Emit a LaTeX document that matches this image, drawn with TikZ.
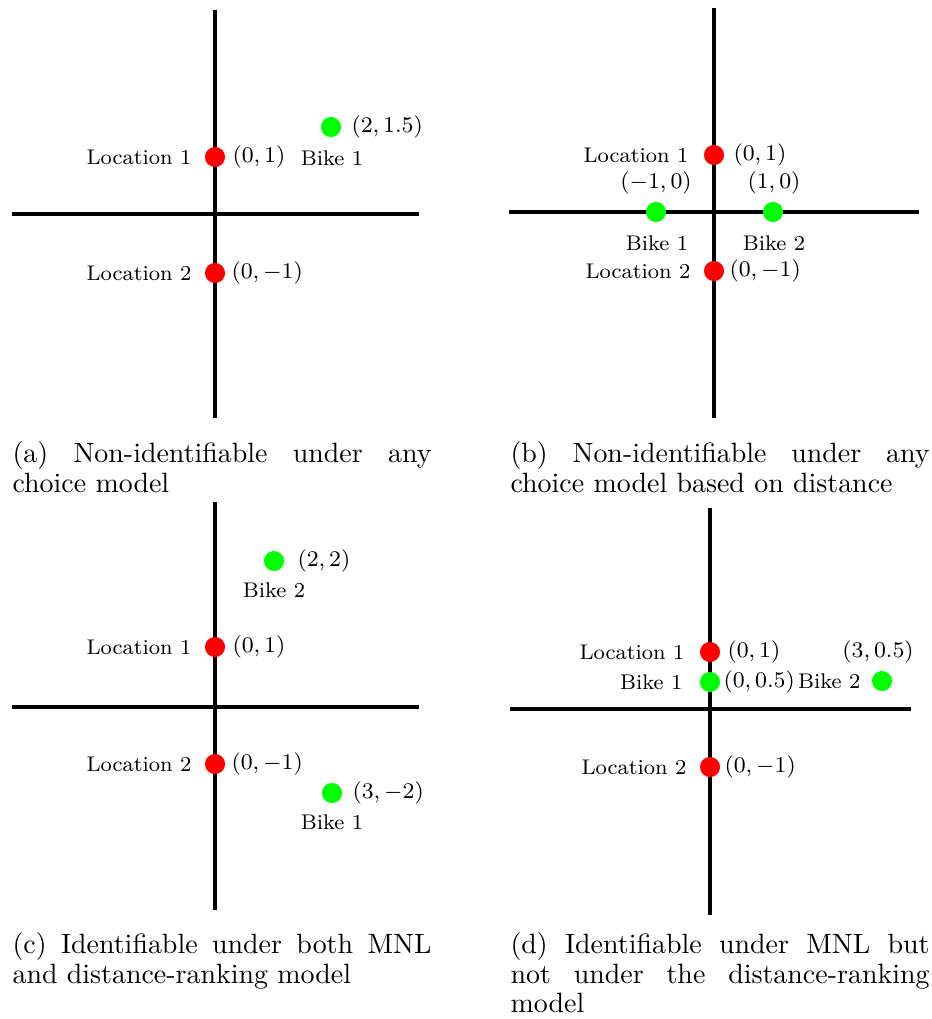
\documentclass[tikz,border=0pt]{standalone}
\usetikzlibrary{calc}
\begin{document}
\begin{tikzpicture}[x=0.358pt,y=-0.358pt,
  axis/.style={line width=1.3pt,black},
  loc/.style={circle,fill=red,inner sep=0pt,minimum size=7.2pt},
  bike/.style={circle,fill=green,inner sep=0pt,minimum size=7.2pt},
  lbl/.style={inner sep=0pt,font=\fontsize{7.6}{9}\selectfont},
  capbox/.style={inner sep=0pt,anchor=north west,text width=150pt,align=justify,
    font={\fontsize{10}{10.6}\selectfont\tolerance=10000\hyphenpenalty=10000}}]
\useasboundingbox (0,0) rectangle (932,1019);

% ---------- (a) ----------
\coordinate (aT) at (215,10);  \coordinate (aB) at (215,418);
\coordinate (aL) at (12,214);  \coordinate (aR) at (419,214);
\draw[axis] (aT) -- (aB);
\draw[axis] (aL) -- (aR);
\node[loc]  (a1) at (215,157) {};
\node[loc]  (a2) at (215,273) {};
\node[bike] (ab1) at (331,127) {};
\node[lbl,anchor=east] (a1n) at ($(a1)+(-23,0)$) {Location 1};
\node[lbl,anchor=west] (a1c) at ($(a1)+(17,0)$) {$(0,1)$};
\node[lbl,anchor=east] (a2n) at ($(a2)+(-23,0)$) {Location 2};
\node[lbl,anchor=west] (a2c) at ($(a2)+(16,0)$) {$(0,-1)$};
\node[lbl,anchor=west] (ab1c) at ($(ab1)+(20,0)$) {$(2,1.5)$};
\node[lbl] (ab1n) at ($(ab1)+(1,31)$) {Bike 1};
\node[capbox] (capa) at (12,441) {(a) Non-identifiable under any\linebreak choice model};

% ---------- (b) ----------
\coordinate (bT) at (714,8);   \coordinate (bB) at (714,418);
\coordinate (bL) at (509,212); \coordinate (bR) at (919,212);
\draw[axis] (bT) -- (bB);
\draw[axis] (bL) -- (bR);
\node[loc]  (b1) at (714,155) {};
\node[loc]  (b2) at (714,271) {};
\node[bike] (bb1) at (656,212) {};
\node[bike] (bb2) at (773,212) {};
\node[lbl,anchor=east] (b1n) at ($(b1)+(-25,0)$) {Location 1};
\node[lbl,anchor=west] (b1c) at ($(b1)+(19,0)$) {$(0,1)$};
\node[lbl,anchor=east] (b2n) at ($(b2)+(-23,0)$) {Location 2};
\node[lbl,anchor=west] (b2c) at ($(b2)+(15,0)$) {$(0,-1)$};
\node[lbl] (bb1c) at ($(bb1)+(0,-29)$) {$(-1,0)$};
\node[lbl] (bb2c) at ($(bb2)+(1,-29)$) {$(1,0)$};
\node[lbl] (bb1n) at ($(bb1)+(1,31)$) {Bike 1};
\node[lbl] (bb2n) at ($(bb2)+(1,31)$) {Bike 2};
\node[capbox] (capb) at (510,441) {(b) Non-identifiable under any\linebreak choice model based on distance};

% ---------- (c) ----------
\coordinate (cT) at (215,502); \coordinate (cB) at (215,910);
\coordinate (cL) at (12,707);  \coordinate (cR) at (419,707);
\draw[axis] (cT) -- (cB);
\draw[axis] (cL) -- (cR);
\node[loc]  (c1) at (215,647) {};
\node[loc]  (c2) at (215,764) {};
\node[bike] (cb2) at (274,561) {};
\node[bike] (cb1) at (332,793) {};
\node[lbl,anchor=east] (c1n) at ($(c1)+(-23,0)$) {Location 1};
\node[lbl,anchor=west] (c1c) at ($(c1)+(17,0)$) {$(0,1)$};
\node[lbl,anchor=east] (c2n) at ($(c2)+(-23,0)$) {Location 2};
\node[lbl,anchor=west] (c2c) at ($(c2)+(16,0)$) {$(0,-1)$};
\node[lbl,anchor=west] (cb2c) at ($(cb2)+(23,0)$) {$(2,2)$};
\node[lbl] (cb2n) at ($(cb2)+(0,29)$) {Bike 2};
\node[lbl,anchor=west] (cb1c) at ($(cb1)+(20,0)$) {$(3,-2)$};
\node[lbl] (cb1n) at ($(cb1)+(0,29)$) {Bike 1};
\node[capbox] (capc) at (12,932) {(c) Identifiable under both MNL\linebreak and distance-ranking model};

% ---------- (d) ----------
\coordinate (dT) at (710,508); \coordinate (dB) at (710,915);
\coordinate (dL) at (510,709); \coordinate (dR) at (911,709);
\draw[axis] (dT) -- (dB);
\draw[axis] (dL) -- (dR);
\node[loc]  (d1) at (710,652) {};
\node[bike] (db1) at (710,682) {};
\node[loc]  (d2) at (710,767) {};
\node[bike] (db2) at (882,681) {};
\node[lbl,anchor=east] (d1n) at ($(d1)+(-25,0)$) {Location 1};
\node[lbl,anchor=west] (d1c) at ($(d1)+(17,0)$) {$(0,1)$};
\node[lbl,anchor=east] (db1n) at ($(db1)+(-27,0)$) {Bike 1};
\node[lbl,anchor=west] (db1c) at ($(db1)+(13,0)$) {$(0,0.5)$};
\node[lbl,anchor=east] (d2n) at ($(d2)+(-23,0)$) {Location 2};
\node[lbl,anchor=west] (d2c) at ($(d2)+(14,0)$) {$(0,-1)$};
\node[lbl,anchor=east] (db2n) at ($(db2)+(-21,0)$) {Bike 2};
\node[lbl] (db2c) at ($(db2)+(-4,-29)$) {$(3,0.5)$};
\node[capbox] (capd) at (510,932) {(d) Identifiable under MNL but\linebreak not under the distance-ranking\linebreak model};
\end{tikzpicture}
\end{document}
